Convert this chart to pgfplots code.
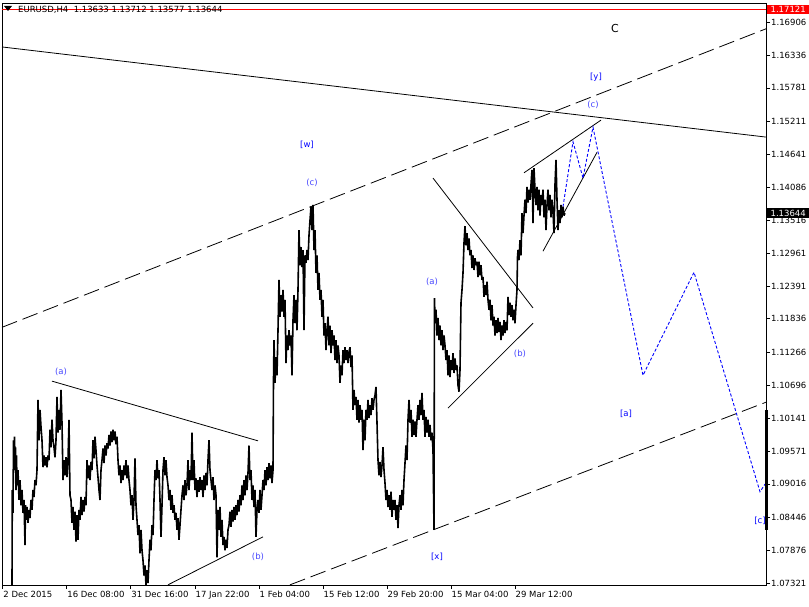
\documentclass[border=0pt]{standalone}
\usepackage{pgfplots}
\pgfplotsset{compat=1.18}
\usepackage{fontspec}
\setmainfont{DejaVu Sans}
\definecolor{lblue}{RGB}{70,70,255}
\definecolor{dblue}{RGB}{0,0,255}
\begin{document}
\begin{tikzpicture}[x=1pt,y=1pt]
\useasboundingbox (0,0) rectangle (809,606);
\begin{axis}[at={(2pt,21pt)}, anchor=south west, scale only axis,
  width=764pt, height=582pt,
  xmin=2, xmax=766, ymin=1.07287, ymax=1.17231, clip=false,
  axis line style={line width=0.8pt},
  tick align=outside, major tick length=4pt, tick style={black, line width=0.6pt},
  xtick pos=left, ytick pos=right, yticklabel pos=right,
  xtick={2.7,66.7,130.7,195,259,323,387,451,515},
  xticklabels={2 Dec 2015,16 Dec 08:00,31 Dec 16:00,17 Jan 22:00,1 Feb 04:00,15 Feb 12:00,29 Feb 20:00,15 Mar 04:00,29 Mar 12:00},
  ytick={1.16906,1.16336,1.15781,1.15211,1.14641,1.14086,1.13516,1.12961,1.12391,1.11836,1.11266,1.10696,1.10141,1.09571,1.09016,1.08446,1.07876,1.07321},
  yticklabels={1.16906,1.16336,1.15781,1.15211,1.14641,1.14086,1.13516,1.12961,1.12391,1.11836,1.11266,1.10696,1.10141,1.09571,1.09016,1.08446,1.07876,1.07321},
  ticklabel style={font=\fontsize{8.5}{10}\selectfont},
  xticklabel style={anchor=north west, inner sep=0pt, xshift=0.5pt, yshift=-2pt},
  yticklabel style={anchor=west, inner sep=0pt, xshift=1pt},
]
% red price line
\addplot[red, line width=0.8pt] coordinates {(2,1.17121) (766,1.17121)};
% trend lines
\addplot[black, line width=0.8pt] coordinates {(2,1.1648) (766,1.1494)};
\addplot[black, line width=0.8pt, dash pattern=on 16pt off 6pt] coordinates {(2,1.1169) (766,1.1679)};
\addplot[black, line width=0.8pt, dash pattern=on 16pt off 6pt] coordinates {(290,1.0729) (766,1.1041)};
\addplot[black, line width=0.8pt] coordinates {(52,1.1077) (258,1.0975)};
\addplot[black, line width=0.8pt] coordinates {(168,1.0729) (263,1.0811)};
\addplot[black, line width=0.8pt] coordinates {(433,1.1424) (533,1.1202)};
\addplot[black, line width=0.8pt] coordinates {(448,1.1031) (533,1.1176)};
\addplot[black, line width=0.8pt] coordinates {(524,1.1433) (601,1.1523)};
\addplot[black, line width=0.8pt] coordinates {(543,1.1299) (597,1.1468)};
% projection
\addplot[dblue, line width=0.9pt, dash pattern=on 3pt off 2pt] coordinates {(563,1.1375) (573,1.1486) (583,1.1424) (593,1.1511) (643,1.1087) (694,1.1263) (760,1.0888) (765,1.0901)};
% right edge bar
\addplot[black, line width=3pt] coordinates {(766.5,1.1028) (766.5,1.0823)};
% price series
\addplot[black, line width=1.6pt, line join=bevel] coordinates {
(12,1.0729)(12.3,1.0891)(13,1.0852)(13.5,1.0976)(14,1.0925)(14.5,1.0982)(15,1.0942)(15.5,1.0964)(16,1.0891)(16.5,1.0950)(17,1.0899)(18,1.0925)(19,1.0874)(20,1.0908)(21,1.0865)(22,1.0891)(23,1.0852)(24,1.0874)(25,1.0797)(25.5,1.0865)(26,1.0840)(27,1.0862)(28,1.0835)(29,1.0857)(30,1.0843)(31,1.0874)(32,1.0857)(33,1.0891)(34,1.0879)(35,1.0908)(36,1.0899)(37,1.0925)(38,1.1045)(39,1.0976)(40,1.1028)(41,1.0999)(42,1.0976)(43,1.0930)(44,1.0950)(45,1.0933)(46,1.0947)(47,1.0930)(48,1.0950)(49,1.0942)(50,1.0994)(51,1.0964)(52,1.1011)(53,1.0976)(54,1.0964)(55,1.0947)(56,1.0976)(57,1.1050)(58,1.0989)(59,1.1028)(60,1.0994)(61,1.1062)(62,1.1006)(63,1.0908)(64,1.0942)(65,1.0916)(66,1.0947)(67,1.0913)(68,1.0942)(69,1.1011)(70,1.0882)(71,1.0874)(72,1.0835)(73,1.0862)(74,1.0823)(75,1.0854)(76,1.0803)(77,1.0848)(78,1.0806)(79,1.0857)(80,1.0840)(81,1.0879)(82,1.0848)(83,1.0874)(84,1.0854)(85,1.0879)(86,1.0865)(87,1.0942)(88,1.0911)(89,1.0933)(90,1.0908)(91,1.0939)(92,1.0925)(93,1.0976)(94,1.0945)(95,1.0982)(96,1.0959)(97,1.0933)(98,1.0913)(99,1.0891)(100,1.0874)(101,1.0925)(102,1.0942)(103,1.0962)(104,1.0937)(105,1.0967)(106,1.0950)(107,1.0971)(108,1.0962)(109,1.0985)(110,1.0967)(111,1.0991)(112,1.0973)(113,1.0994)(114,1.0976)(115,1.0991)(116,1.0969)(117,1.0982)(118,1.0942)(119,1.0916)(120,1.0933)(121,1.0903)(122,1.0925)(123,1.0908)(124,1.0933)(125,1.0916)(126,1.0942)(127,1.0911)(128,1.0933)(129,1.0908)(130,1.0891)(131,1.0865)(132,1.0882)(133,1.0840)(134,1.0874)(135,1.0945)(136,1.0865)(137,1.0840)(138,1.0814)(139,1.0831)(140,1.0783)(141,1.0823)(142,1.0788)(143,1.0771)(144,1.0745)(145,1.0762)(146,1.0728)(147,1.0754)(148,1.0732)(149,1.0771)(150,1.0806)(151,1.0788)(152,1.0831)(153,1.0814)(154,1.0874)(155,1.0925)(156,1.0908)(157,1.0942)(158,1.0911)(159,1.0925)(160,1.0874)(161,1.0811)(162,1.0865)(163,1.0925)(164,1.0947)(165,1.0916)(166,1.0942)(167,1.0913)(168,1.0899)(169,1.0874)(170,1.0891)(171,1.0857)(172,1.0882)(173,1.0852)(174,1.0865)(175,1.0840)(176,1.0852)(177,1.0823)(178,1.0843)(179,1.0806)(180,1.0831)(181,1.0857)(182,1.0882)(183,1.0899)(184,1.0874)(185,1.0908)(186,1.0882)(187,1.0899)(188,1.0942)(189,1.0891)(190,1.0925)(191,1.0908)(192,1.0989)(193,1.0908)(194,1.0942)(195,1.0891)(196,1.0911)(197,1.0879)(198,1.0908)(199,1.0888)(200,1.0913)(201,1.0891)(202,1.0908)(203,1.0879)(204,1.0916)(205,1.0891)(206,1.0920)(207,1.0899)(208,1.0942)(209,1.0976)(210,1.0925)(211,1.0908)(212,1.0891)(213,1.0913)(214,1.0874)(215,1.0899)(216,1.0882)(217,1.0776)(218,1.0857)(219,1.0823)(220,1.0862)(221,1.0811)(222,1.0840)(223,1.0797)(224,1.0811)(225,1.0788)(226,1.0806)(227,1.0792)(228,1.0823)(229,1.0831)(230,1.0854)(231,1.0828)(232,1.0857)(233,1.0837)(234,1.0862)(235,1.0840)(236,1.0865)(237,1.0848)(238,1.0874)(239,1.0854)(240,1.0882)(241,1.0865)(242,1.0899)(243,1.0874)(244,1.0908)(245,1.0882)(246,1.0916)(247,1.0891)(248,1.0920)(249,1.0967)(250,1.0908)(251,1.0925)(252,1.0874)(253,1.0899)(254,1.0862)(255,1.0891)(256,1.0811)(257,1.0857)(258,1.0874)(259,1.0852)(260,1.0891)(261,1.0857)(262,1.0882)(263,1.0908)(264,1.0891)(265,1.0925)(266,1.0899)(267,1.0930)(268,1.0908)(269,1.0937)(270,1.0911)(271,1.0933)(272,1.0903)(273,1.0925)(273.5,1.1079)(274,1.1147)(275,1.1074)(276,1.1118)(277,1.1087)(278,1.1164)(279,1.1250)(280,1.1187)(281,1.1224)(282,1.1196)(283,1.1233)(284,1.1187)(285,1.1216)(286,1.1108)(287,1.1155)(288,1.1130)(289,1.1164)(290,1.1138)(291,1.1155)(292,1.1087)(293,1.1181)(294,1.1224)(295,1.1176)(296,1.1216)(297,1.1164)(298,1.1233)(299,1.1335)(300,1.1275)(301,1.1306)(302,1.1272)(303,1.1301)(304,1.1164)(305,1.1292)(306,1.1279)(307,1.1301)(308,1.1284)(309,1.1326)(310,1.1352)(311,1.1375)(312,1.1335)(313,1.1378)(314,1.1301)(315,1.1335)(316,1.1262)(317,1.1292)(318,1.1233)(319,1.1262)(320,1.1216)(321,1.1233)(322,1.1187)(323,1.1216)(324,1.1155)(325,1.1176)(326,1.1130)(327,1.1164)(328,1.1187)(329,1.1138)(330,1.1172)(331,1.1125)(332,1.1164)(333,1.1138)(334,1.1155)(335,1.1113)(336,1.1147)(337,1.1108)(338,1.1138)(339,1.1121)(340,1.1074)(341,1.1104)(342,1.1087)(343,1.1130)(344,1.1108)(345,1.1135)(346,1.1113)(347,1.1130)(348,1.1108)(349,1.1127)(350,1.1135)(351,1.1101)(352,1.1121)(353,1.1028)(354,1.1062)(355,1.1036)(356,1.1050)(357,1.1011)(358,1.1045)(359,1.1006)(360,1.1036)(361,1.1011)(362,1.1028)(363,1.0959)(364,1.1011)(365,1.0976)(366,1.1028)(367,1.1011)(368,1.1045)(369,1.1014)(370,1.1036)(371,1.1019)(372,1.1048)(373,1.1028)(374,1.1045)(375,1.1053)(376,1.1067)(377,1.1006)(378,1.0942)(379,1.0916)(380,1.0939)(381,1.0913)(382,1.0933)(383,1.0964)(384,1.0925)(385,1.0903)(386,1.0874)(387,1.0891)(388,1.0862)(389,1.0882)(390,1.0857)(391,1.0888)(392,1.0845)(393,1.0874)(394,1.0857)(395,1.0874)(396,1.0840)(397,1.0865)(398,1.0826)(399,1.0865)(400,1.0882)(401,1.0857)(402,1.0891)(403,1.0865)(404,1.0908)(405,1.0937)(406,1.0967)(407,1.0942)(408,1.1011)(409,1.1045)(410,1.1006)(411,1.1028)(412,1.0982)(413,1.1011)(414,1.0985)(415,1.1008)(416,1.0982)(417,1.1011)(418,1.1036)(419,1.1011)(420,1.1045)(421,1.1019)(422,1.1057)(423,1.1011)(424,1.1028)(425,1.0982)(426,1.1016)(427,1.0989)(428,1.1011)(429,1.0982)(430,1.1002)(431,1.0976)(432,1.0989)(433,1.0959)(434,1.0823)(434.5,1.1219)(435,1.1181)(436,1.1199)(437,1.1155)(438,1.1185)(439,1.1147)(440,1.1172)(441,1.1138)(442,1.1164)(443,1.1130)(444,1.1155)(445,1.1138)(446,1.1113)(447,1.1130)(448,1.1087)(449,1.1121)(450,1.1084)(451,1.1113)(452,1.1096)(453,1.1125)(454,1.1091)(455,1.1116)(456,1.1096)(457,1.1104)(458,1.1070)(459,1.1059)(460,1.1096)(461,1.1211)(462,1.1233)(463,1.1262)(464,1.1313)(465,1.1342)(466,1.1309)(467,1.1330)(468,1.1301)(469,1.1321)(470,1.1292)(471,1.1301)(472,1.1270)(473,1.1292)(474,1.1267)(475,1.1287)(476,1.1275)(477,1.1281)(478,1.1255)(479,1.1281)(480,1.1258)(481,1.1275)(482,1.1250)(483,1.1255)(484,1.1221)(485,1.1241)(486,1.1224)(487,1.1247)(488,1.1216)(489,1.1199)(490,1.1216)(491,1.1181)(492,1.1207)(493,1.1172)(494,1.1187)(495,1.1155)(496,1.1181)(497,1.1159)(498,1.1185)(499,1.1161)(500,1.1178)(501,1.1147)(502,1.1172)(503,1.1155)(504,1.1181)(505,1.1159)(506,1.1178)(507,1.1164)(508,1.1221)(509,1.1190)(510,1.1211)(511,1.1187)(512,1.1207)(513,1.1181)(514,1.1199)(515,1.1176)(516,1.1207)(517,1.1233)(517.5,1.1289)(518,1.1301)(519,1.1284)(520,1.1318)(521,1.1292)(522,1.1364)(523,1.1330)(524,1.1360)(525,1.1387)(526,1.1364)(527,1.1409)(528,1.1382)(529,1.1404)(530,1.1387)(531,1.1413)(532,1.1438)(533,1.1347)(534,1.1441)(535,1.1404)(536,1.1378)(537,1.1409)(538,1.1369)(539,1.1404)(540,1.1360)(541,1.1395)(542,1.1378)(543,1.1404)(544,1.1357)(545,1.1387)(546,1.1335)(547,1.1378)(548,1.1404)(549,1.1369)(550,1.1395)(551,1.1357)(552,1.1387)(553,1.1366)(554,1.1330)(555,1.1413)(556,1.1455)(557,1.1387)(558,1.1335)(559,1.1369)(560,1.1347)(561,1.1378)(562,1.1357)(563,1.1375)(564,1.1360)(565,1.1364)
};
% wave labels
\node[text=lblue, font=\fontsize{8.5}{10}\selectfont] at (axis cs:61,1.10926) {(a)};
\node[text=lblue, font=\fontsize{8.5}{10}\selectfont] at (axis cs:258,1.07765) {(b)};
\node[text=lblue, font=\fontsize{8.5}{10}\selectfont] at (axis cs:312,1.14155) {(c)};
\node[text=dblue, font=\fontsize{8.5}{10}\selectfont] at (axis cs:307,1.14805) {[w]};
\node[text=lblue, font=\fontsize{8.5}{10}\selectfont] at (axis cs:432,1.12464) {(a)};
\node[text=dblue, font=\fontsize{8.5}{10}\selectfont] at (axis cs:437,1.07765) {[x]};
\node[text=lblue, font=\fontsize{8.5}{10}\selectfont] at (axis cs:520,1.11234) {(b)};
\node[text=dblue, font=\fontsize{8.5}{10}\selectfont] at (axis cs:596,1.15966) {[y]};
\node[text=lblue, font=\fontsize{8.5}{10}\selectfont] at (axis cs:593,1.15488) {(c)};
\node[text=dblue, font=\fontsize{8.5}{10}\selectfont] at (axis cs:626,1.10208) {[a]};
\node[text=dblue, font=\fontsize{8.5}{10}\selectfont] at (axis cs:760,1.08380) {[c]};
\node[text=black, font=\fontsize{11}{13}\selectfont] at (axis cs:615,1.16787) {C};
% price boxes
\node[fill=red, text=white, anchor=west, inner xsep=2pt, inner ysep=1.5pt, minimum width=42pt, font=\fontsize{8.5}{10}\selectfont] at (axis cs:767,1.17121) {1.17121};
\node[fill=black, text=white, anchor=west, inner xsep=2pt, inner ysep=1.5pt, minimum width=42pt, font=\fontsize{8.5}{10}\selectfont] at (axis cs:767,1.13644) {1.13644};
\end{axis}
% header
\fill[black] (4,600) -- (12,600) -- (8,595) -- cycle;
\node[anchor=west, inner sep=0pt, font=\fontsize{8.5}{10}\selectfont] at (18,596) {EURUSD,H4\ \ 1.13633 1.13712 1.13577 1.13644};
\end{tikzpicture}
\end{document}
